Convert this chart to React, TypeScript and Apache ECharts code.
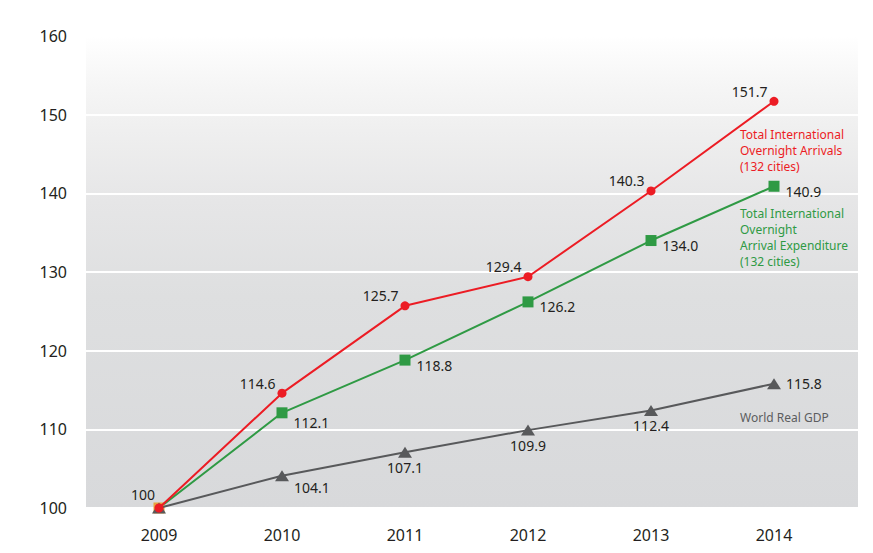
import React, { useEffect, useRef } from 'react';
import * as echarts from 'echarts';

const years = ['2009', '2010', '2011', '2012', '2013', '2014'];
const arrivals = [100, 114.6, 125.7, 129.4, 140.3, 151.7];
const expenditure = [100, 112.1, 118.8, 126.2, 134.0, 140.9];
const gdp = [100, 104.1, 107.1, 109.9, 112.4, 115.8];
const yMin = 100;
const yMax = 160;
const yStep = 10;

const arrivalsTitle = ['Total International', 'Overnight Arrivals', '(132 cities)'];
const expenditureTitle = ['Total International', 'Overnight', 'Arrival Expenditure', '(132 cities)'];
const gdpTitle = ['World Real GDP'];

const RED = '#ec1c24';
const GREEN = '#2f9a44';
const GRAY = '#58595b';
const TEXT = '#231f20';
const FONT = 'Noto Sans';

const fmt = (v: number, i: number) => (i === 0 ? String(v) : v.toFixed(1));

export default function App() {
  const ref = useRef<HTMLDivElement>(null);
  useEffect(() => {
    if (!ref.current) return;
    const chart = echarts.init(ref.current, null, { renderer: 'svg' });

    const baseLabel = { fontFamily: FONT, fontSize: 14, color: TEXT };

    const redData = arrivals.map((v, i) => ({
      value: v,
      label:
        i === 0
          ? { show: true, position: 'top', distance: 2, offset: [-16, 0], formatter: fmt(v, i), ...baseLabel }
          : { show: true, position: 'left', distance: 2, offset: [0, -10], formatter: fmt(v, i), ...baseLabel },
    }));

    const greenData = expenditure.map((v, i) => ({
      value: v,
      itemStyle: i === 0 ? { color: '#e8a33d' } : undefined,
      label:
        i === 0
          ? { show: false }
          : {
              show: true,
              position: 'right',
              distance: 6,
              offset: [0, i === 1 ? 10 : 5],
              formatter: fmt(v, i),
              ...baseLabel,
            },
    }));

    const grayData = gdp.map((v, i) => {
      let label: any = { show: false };
      if (i === 1) label = { show: true, position: 'right', distance: 5, offset: [0, 12], formatter: fmt(v, i), ...baseLabel };
      else if (i >= 2 && i <= 4) label = { show: true, position: 'bottom', distance: 3, formatter: fmt(v, i), ...baseLabel };
      else if (i === 5) label = { show: true, position: 'right', distance: 5, formatter: fmt(v, i), ...baseLabel };
      return { value: v, label };
    });

    const titleStyle = (lines: string[], color: string) => ({
      text: lines.join('\n'),
      fill: color,
      font: `12px "${FONT}"`,
      lineHeight: 16,
      textAlign: 'left',
      textVerticalAlign: 'top',
    });

    chart.setOption({
      animation: false,
      grid: [
        {
          left: 86,
          right: 15,
          top: 36,
          bottom: 45,
          show: true,
          borderWidth: 0,
          backgroundColor: {
            type: 'linear',
            x: 0,
            y: 0,
            x2: 0,
            y2: 1,
            colorStops: [
              { offset: 0, color: '#ffffff' },
              { offset: 0.1, color: '#f6f6f6' },
              { offset: 0.2, color: '#efefef' },
              { offset: 0.35, color: '#e6e6e7' },
              { offset: 0.55, color: '#dedfe0' },
              { offset: 1, color: '#d8d9db' },
            ],
          },
        },
        { left: 159, right: 99, top: 36, bottom: 45 },
      ],
      xAxis: [
        { gridIndex: 0, type: 'category', data: years, show: false },
        {
          gridIndex: 1,
          type: 'category',
          data: years,
          boundaryGap: false,
          axisLine: { show: false },
          axisTick: { show: false },
          splitLine: { show: false },
          axisLabel: { margin: 19, fontSize: 16, fontFamily: FONT, color: TEXT },
        },
      ],
      yAxis: [
        {
          gridIndex: 0,
          type: 'value',
          min: yMin,
          max: yMax,
          interval: yStep,
          axisLine: { show: false },
          axisTick: { show: false },
          axisLabel: { margin: 19, fontSize: 16, fontFamily: FONT, color: TEXT },
          splitLine: { show: true, lineStyle: { color: '#ffffff', width: 2 } },
        },
        {
          gridIndex: 1,
          type: 'value',
          min: yMin,
          max: yMax,
          interval: yStep,
          show: false,
          splitLine: { show: false },
        },
      ],
      series: [
        {
          name: 'Total International Overnight Arrival Expenditure (132 cities)',
          type: 'line',
          xAxisIndex: 1,
          yAxisIndex: 1,
          data: greenData,
          symbol: 'rect',
          symbolSize: 11,
          showAllSymbol: true,
          lineStyle: { color: GREEN, width: 2 },
          itemStyle: { color: GREEN },
          z: 2,
        },
        {
          name: 'World Real GDP',
          type: 'line',
          xAxisIndex: 1,
          yAxisIndex: 1,
          data: grayData,
          symbol: 'triangle',
          symbolSize: [14, 11],
          showAllSymbol: true,
          lineStyle: { color: GRAY, width: 2 },
          itemStyle: { color: GRAY },
          z: 3,
        },
        {
          name: 'Total International Overnight Arrivals (132 cities)',
          type: 'line',
          xAxisIndex: 1,
          yAxisIndex: 1,
          data: redData,
          symbol: 'circle',
          symbolSize: 9,
          showAllSymbol: true,
          lineStyle: { color: RED, width: 2 },
          itemStyle: { color: RED },
          z: 4,
        },
      ],
      graphic: [
        { type: 'text', left: 740, top: 126, z: 10, style: titleStyle(arrivalsTitle, RED) },
        { type: 'text', left: 740, top: 205, z: 10, style: titleStyle(expenditureTitle, GREEN) },
        { type: 'text', left: 740, top: 409, z: 10, style: titleStyle(gdpTitle, '#5c5d5f') },
      ],
    });
    return () => chart.dispose();
  }, []);

  return <div ref={ref} style={{ width: 873, height: 553, position: 'absolute', left: 0, top: 0 }} />;
}
